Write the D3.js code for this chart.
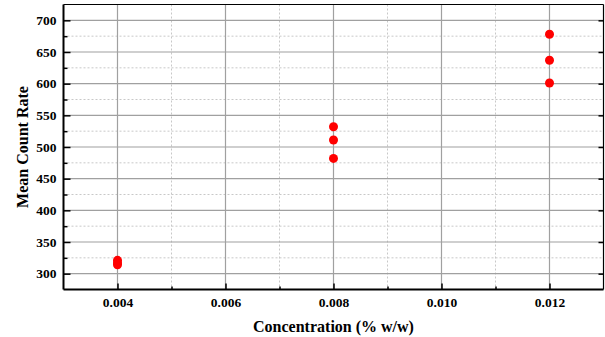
<!DOCTYPE html>
<html><head><meta charset="utf-8">
<script src="https://cdn.jsdelivr.net/npm/d3@7"></script>
<style>body{margin:0;background:#fff}svg{display:block}</style>
</head><body><svg id="c" width="605" height="337"></svg>
<script>
const concentrations = [0.004, 0.004, 0.004, 0.008, 0.008, 0.008, 0.012, 0.012, 0.012];
const countRates = [314, 317, 321, 482, 511, 532, 601, 637, 678];
const xTicks = [0.004, 0.006, 0.008, 0.010, 0.012];
const yTicks = [300, 350, 400, 450, 500, 550, 600, 650, 700];
const xMinor = [0.005, 0.007, 0.009, 0.011];
const yMinor = [325, 375, 425, 475, 525, 575, 625, 675];

const svg = d3.select("#c");
const L = 63.5, R = 603.5, T = 4.5, B = 289.5;
const x = d3.scaleLinear().domain([0.003, 0.013]).range([L, R]);
const y = d3.scaleLinear().domain([275, 725]).range([B, T]);
const font = "'Liberation Serif','Times New Roman',serif";

const g = svg.append("g");
// minor grid
g.selectAll(".mx").data(xMinor).enter().append("line")
  .attr("x1", d => x(d)).attr("x2", d => x(d)).attr("y1", T).attr("y2", B)
  .attr("stroke", "#c8c8c8").attr("stroke-dasharray", "2,2").attr("stroke-width", 1);
g.selectAll(".my").data(yMinor).enter().append("line")
  .attr("y1", d => y(d)).attr("y2", d => y(d)).attr("x1", L).attr("x2", R)
  .attr("stroke", "#c8c8c8").attr("stroke-dasharray", "2,2").attr("stroke-width", 1);
// major grid
g.selectAll(".gx").data(xTicks).enter().append("line")
  .attr("x1", d => x(d)).attr("x2", d => x(d)).attr("y1", T).attr("y2", B)
  .attr("stroke", "#a0a0a0").attr("stroke-width", 1.2);
g.selectAll(".gy").data(yTicks).enter().append("line")
  .attr("y1", d => y(d)).attr("y2", d => y(d)).attr("x1", L).attr("x2", R)
  .attr("stroke", "#a0a0a0").attr("stroke-width", 1.2);

// axes
const fmt = d3.format(".3f");
const xAxis = d3.axisBottom(x).tickValues(xTicks).tickFormat(fmt).tickSizeInner(-6).tickSizeOuter(0).tickPadding(8);
const yAxis = d3.axisLeft(y).tickValues(yTicks).tickFormat(d3.format("d")).tickSizeInner(-7).tickSizeOuter(0).tickPadding(7);
const gx = svg.append("g").attr("transform", `translate(0,${B})`).call(xAxis);
const gy = svg.append("g").attr("transform", `translate(${L},0)`).call(yAxis);
const xMinorAxis = d3.axisBottom(x).tickValues(xMinor).tickFormat("").tickSizeInner(-3).tickSizeOuter(0);
const yMinorAxis = d3.axisLeft(y).tickValues(yMinor).tickFormat("").tickSizeInner(-4).tickSizeOuter(0);
svg.append("g").attr("transform", `translate(0,${B})`).call(xMinorAxis);
svg.append("g").attr("transform", `translate(${L},0)`).call(yMinorAxis);
const yRight = d3.axisRight(y).tickValues(yTicks).tickFormat("").tickSizeInner(-5).tickSizeOuter(0);
const gr = svg.append("g").attr("transform", `translate(${R},0)`).call(yRight);
svg.selectAll(".domain").remove();
svg.selectAll(".tick line").attr("stroke", "#000").attr("stroke-width", 1.5);
svg.selectAll(".tick text").attr("font-family", font).attr("font-weight", "bold").attr("font-size", "13.5px").attr("fill", "#000");

// frame
svg.append("line").attr("x1", L).attr("x2", L).attr("y1", T).attr("y2", B).attr("stroke", "#000").attr("stroke-width", 2);
svg.append("line").attr("x1", L).attr("x2", R).attr("y1", B).attr("y2", B).attr("stroke", "#000").attr("stroke-width", 2);
svg.append("line").attr("x1", L).attr("x2", R).attr("y1", T).attr("y2", T).attr("stroke", "#000").attr("stroke-width", 1.2);
svg.append("line").attr("x1", R).attr("x2", R).attr("y1", T).attr("y2", B).attr("stroke", "#000").attr("stroke-width", 1.2);

// points
svg.selectAll(".pt").data(concentrations).enter().append("circle")
  .attr("cx", d => x(d)).attr("cy", (d, i) => y(countRates[i])).attr("r", 4.5).attr("fill", "#ff0000");

// titles
svg.append("text").attr("x", (L + R) / 2).attr("y", 332).attr("text-anchor", "middle")
  .attr("font-family", font).attr("font-weight", "bold").attr("font-size", "16px").text("Concentration (% w/w)");
svg.append("text").attr("transform", `translate(28,${(T + B) / 2}) rotate(-90)`).attr("text-anchor", "middle")
  .attr("font-family", font).attr("font-weight", "bold").attr("font-size", "16px").text("Mean Count Rate");
</script></body></html>
